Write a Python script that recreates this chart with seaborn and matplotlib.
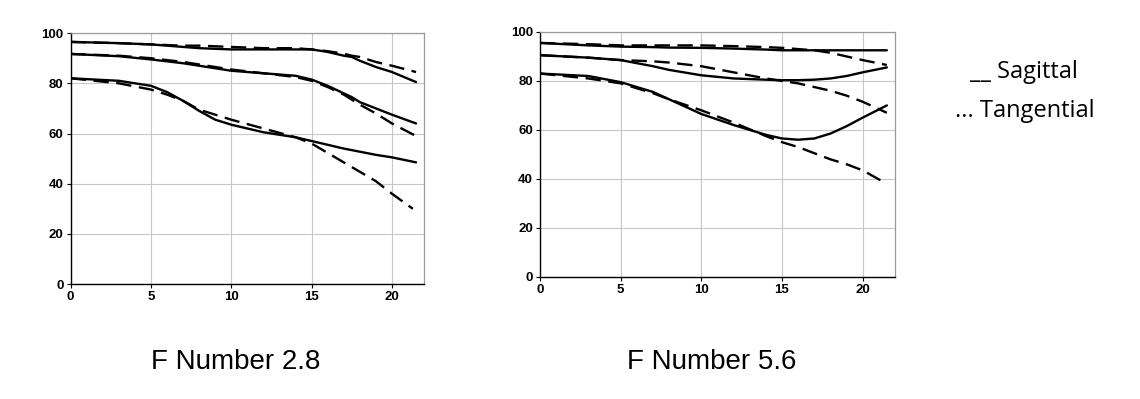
import numpy as np
import pandas as pd
import matplotlib
matplotlib.use("Agg")
import matplotlib.pyplot as plt
import seaborn as sns

# MTF readings, image height (mm) vs contrast (%)
# F 2.8
f28_x = [0, 3, 5, 7, 8, 10, 12, 14, 15, 16, 17, 17.5, 18, 19, 20, 21.5]
f28_sag_hi = [96.5, 96, 95.5, 94.5, 94, 93.5, 93.5, 93.5, 93.5, 92.5, 91, 90.5, 89, 86.5, 84.5, 80.5]
f28_tan_hi = [96.5, 96, 95.5, 95, 95, 94.5, 94, 94, 93.5, 92.8, 91.8, 91, 90.5, 88.5, 87, 84.5]
f28_sag_mid = [91.7, 90.8, 89.5, 88, 87, 85, 84, 83, 81.5, 79, 76, 74.5, 72.5, 70, 67.5, 64]
f28_tan_mid = [91.7, 91, 90, 88.5, 87.5, 85.5, 84, 82.5, 81, 78.5, 75.5, 73.5, 71.5, 68, 64, 59]

f28_x_lo = [0, 3, 5, 6, 7, 8, 9, 10, 12, 14, 15, 17, 19, 20, 21.5]
f28_sag_lo = [82, 81, 79, 76.5, 73, 69, 65.5, 63.5, 60.5, 58.5, 57, 54, 51.5, 50.5, 48.5]
f28_x_lo_t = [0, 3, 5, 6, 7, 8, 9, 10, 12, 14, 15, 17, 19, 20, 21.3]
f28_tan_lo = [82, 80, 77.5, 75.5, 73, 69.5, 67.5, 65.5, 62, 58.5, 56, 48.5, 41, 36, 30]

# F 5.6
f56_x = [0, 3, 5, 7, 8, 10, 12, 14, 15, 16, 17, 18, 19, 20, 21.5]
f56_sag_hi = [95.5, 94.5, 94, 93.8, 93.6, 93.5, 93.2, 92.8, 92.5, 92.5, 92.5, 92.5, 92.5, 92.5, 92.5]
f56_tan_hi = [95.5, 95, 94.5, 94.5, 94.5, 94.5, 94.2, 93.8, 93.5, 93, 92.5, 91.5, 90, 88.5, 86.5]
f56_sag_mid = [90.5, 89.5, 88.5, 86, 84.5, 82.3, 81, 80.5, 80.3, 80.3, 80.5, 81, 82, 83.5, 85.5]
f56_tan_mid = [90.5, 89.5, 88.5, 88, 87.5, 86, 83.5, 81, 80, 79, 77.5, 76, 74, 71.5, 67]
f56_sag_lo = [83, 82, 79.5, 75.5, 72.5, 66.5, 62, 58, 56.5, 56, 56.5, 58.5, 61.5, 65, 70]
f56_tan_lo = [83, 81, 79, 75, 72.5, 68, 63, 57.5, 55, 53, 50.5, 48, 46, 43.5, 38]

panels = [
    ("F Number 2.8", [
        (f28_x, f28_sag_hi, "Sagittal"), (f28_x, f28_tan_hi, "Tangential"),
        (f28_x, f28_sag_mid, "Sagittal"), (f28_x, f28_tan_mid, "Tangential"),
        (f28_x_lo, f28_sag_lo, "Sagittal"), (f28_x_lo_t, f28_tan_lo, "Tangential"),
    ]),
    ("F Number 5.6", [
        (f56_x, f56_sag_hi, "Sagittal"), (f56_x, f56_tan_hi, "Tangential"),
        (f56_x, f56_sag_mid, "Sagittal"), (f56_x, f56_tan_mid, "Tangential"),
        (f56_x, f56_sag_lo, "Sagittal"), (f56_x, f56_tan_lo, "Tangential"),
    ]),
]

sns.set_style("white")
plt.rcParams['font.family'] = ['Liberation Sans', 'DejaVu Sans']
plt.rcParams['text.color'] = 'black'
plt.rcParams['xtick.color'] = 'black'
plt.rcParams['ytick.color'] = 'black'

fig = plt.figure(figsize=(11.4, 3.99), dpi=100)
boxes = [[0.062, 0.288, 0.310, 0.629], [0.4737, 0.306, 0.3113, 0.614]]
caption_x = [236 / 1140, 712 / 1140]

for (title, curves), box, cx in zip(panels, boxes, caption_x):
    ax = fig.add_axes(box)
    rows = []
    for i, (xs, ys, kind) in enumerate(curves):
        for xv, yv in zip(xs, ys):
            rows.append({"field": xv, "mtf": yv, "curve": i, "kind": kind})
    df = pd.DataFrame(rows)
    sns.lineplot(data=df, x="field", y="mtf", units="curve", style="kind",
                 estimator=None, dashes={"Sagittal": "", "Tangential": (6.5, 3.2)},
                 color="black", linewidth=1.7, legend=False, ax=ax)
    ax.set_xlim(0, 22)
    ax.set_ylim(0, 100)
    ax.set_xticks([0, 5, 10, 15, 20])
    ax.set_yticks([0, 20, 40, 60, 80, 100])
    ax.set_yticks([10, 30, 50, 70, 90], minor=True)
    ax.grid(True, which="major", color="#c8c8c8", linewidth=0.8)
    ax.set_axisbelow(True)
    ax.set_xlabel("")
    ax.set_ylabel("")
    ax.tick_params(axis="both", which="major", labelsize=9.5, length=3, width=0.8,
                   direction="out", pad=2)
    ax.tick_params(axis="y", which="minor", length=2, width=0.6, color="#555555")
    ax.tick_params(left=True, bottom=True)
    for lab in ax.get_xticklabels() + ax.get_yticklabels():
        lab.set_fontweight("bold")
    for s in ["left", "bottom"]:
        ax.spines[s].set_color("black")
        ax.spines[s].set_linewidth(1.0)
    for s in ["top", "right"]:
        ax.spines[s].set_color("#9a9a9a")
        ax.spines[s].set_linewidth(0.9)
    fig.text(cx, 1 - 362 / 399, title, ha="center", va="center", fontsize=20)

fig.text(1024 / 1140, 1 - 72 / 399, "__ Sagittal", ha="center", va="center",
         fontsize=17, family=["Open Sans", "DejaVu Sans"])
fig.text(1025 / 1140, 1 - 111 / 399, "... Tangential", ha="center", va="center",
         fontsize=17, family=["Open Sans", "DejaVu Sans"])

fig.savefig("out.png", dpi=100)
